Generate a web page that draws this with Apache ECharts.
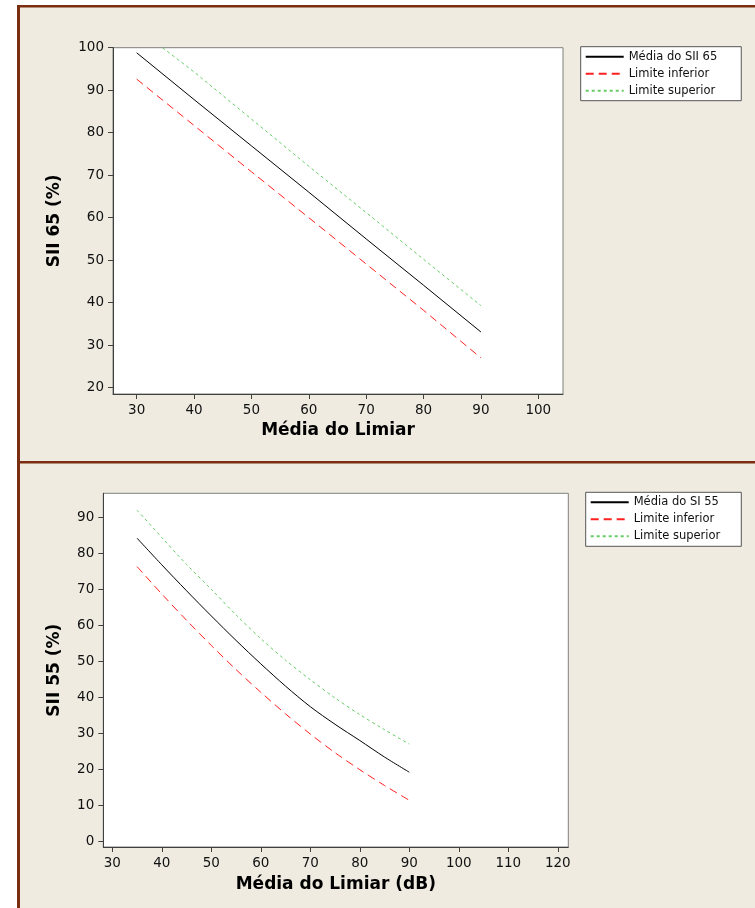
<!DOCTYPE html>
<html>
<head>
<meta charset="utf-8">
<title>SII 65 / SII 55</title>
<script src="https://cdn.jsdelivr.net/npm/echarts@6/dist/echarts.min.js"></script>
<style>
    html, body { margin: 0; padding: 0; background: #fff; }
    #chart { width: 755px; height: 908px; }
</style>
</head>
<body>
<div id="chart"></div>
<script>
// painel de cima: SII 65 (retas)
var topX = [30, 40, 50, 60, 70, 80, 90];
var topMedia = [98.8, 87.8, 76.9, 66.0, 55.0, 44.1, 33.1];
var topInferior = [92.6, 81.7, 70.8, 60.0, 49.1, 38.2, 27.0];
var topSupX = [34.5, 40, 50, 60, 70, 80, 90];
var topSuperior = [100, 94.3, 83.2, 72.1, 61.2, 50.2, 39.3];
var topXTicks = [30, 40, 50, 60, 70, 80, 90, 100];
var topYTicks = [20, 30, 40, 50, 60, 70, 80, 90, 100];

// painel de baixo: SII 55 (curvas)
var botX = [35, 40, 45, 50, 55, 60, 65, 70, 75, 80, 85, 90];
var botMedia = [84.2, 76.8, 69.6, 62.6, 55.8, 49.3, 43.1, 37.4, 32.5, 28.0, 23.4, 19.2];
var botInferior = [76.3, 68.7, 61.4, 54.4, 47.7, 41.4, 35.4, 29.8, 24.6, 19.9, 15.5, 11.4];
var botSuperior = [92.0, 84.4, 76.9, 70.0, 62.9, 56.3, 50.3, 44.9, 39.8, 35.2, 31.0, 27.0];
var botXTicks = [30, 40, 50, 60, 70, 80, 90, 100, 110, 120];
var botYTicks = [0, 10, 20, 30, 40, 50, 60, 70, 80, 90];

function pares(xs, ys) {
    return xs.map(function (x, i) { return [x, ys[i]]; });
}

var fonte = 'DejaVu Sans';
var corBorda = '#7a2d10';

function eixoX(grid, min, max, ticks, nome, gap) {
    return {
        type: 'value',
        gridIndex: grid,
        min: min,
        max: max,
        splitLine: { show: false },
        axisLine: { show: true, onZero: false, lineStyle: { color: '#404040', width: 1 } },
        axisTick: { show: true, customValues: ticks, length: 5, lineStyle: { color: '#404040' } },
        axisLabel: { customValues: ticks, margin: 9, color: '#111', fontFamily: fonte, fontSize: 13.5 },
        name: nome,
        nameLocation: 'middle',
        nameGap: gap,
        nameTextStyle: { color: '#000', fontFamily: fonte, fontWeight: 'bold', fontSize: 17 }
    };
}

function eixoY(grid, min, max, ticks, nome, gap) {
    return {
        type: 'value',
        gridIndex: grid,
        min: min,
        max: max,
        splitLine: { show: false },
        axisLine: { show: true, onZero: false, lineStyle: { color: '#404040', width: 1 } },
        axisTick: { show: true, customValues: ticks, length: 5, lineStyle: { color: '#404040' } },
        axisLabel: { customValues: ticks, margin: 9, color: '#111', fontFamily: fonte, fontSize: 13.5 },
        name: nome,
        nameLocation: 'middle',
        nameGap: gap,
        nameTextStyle: { color: '#000', fontFamily: fonte, fontWeight: 'bold', fontSize: 17 }
    };
}

function serie(nome, idx, dados, cor, tipo, suave) {
    return {
        name: nome,
        type: 'line',
        xAxisIndex: idx,
        yAxisIndex: idx,
        data: dados,
        symbol: 'none',
        smooth: suave,
        silent: true,
        animation: false,
        lineStyle: { color: cor, width: 1, type: tipo },
        itemStyle: { color: cor }
    };
}

function legenda(left, top, nomes, padDir) {
    return {
        left: left,
        top: top,
        orient: 'vertical',
        data: nomes,
        itemWidth: 38,
        itemHeight: 12,
        itemGap: 5,
        padding: [4, padDir, 4, 4],
        backgroundColor: '#fff',
        borderColor: '#555',
        borderWidth: 1,
        borderRadius: 0,
        selectedMode: false,
        // sem o círculo no meio da linha
        itemStyle: { opacity: 0 },
        textStyle: { color: '#111', fontFamily: fonte, fontSize: 11.5 }
    };
}

var chart = echarts.init(document.getElementById('chart'));
var option = {
    backgroundColor: '#efebe1',
    animation: false,
    graphic: [
        { type: 'rect', shape: { x: 0, y: 0, width: 17, height: 908 }, style: { fill: '#fff' }, silent: true },
        { type: 'rect', shape: { x: 0, y: 0, width: 755, height: 5 }, style: { fill: '#fff' }, silent: true },
        { type: 'rect', shape: { x: 17, y: 5, width: 3, height: 903 }, style: { fill: corBorda }, silent: true },
        { type: 'rect', shape: { x: 17, y: 5, width: 738, height: 2.5 }, style: { fill: corBorda }, silent: true },
        { type: 'rect', shape: { x: 17, y: 461, width: 738, height: 2.5 }, style: { fill: corBorda }, silent: true }
    ],
    grid: [
        { left: 113, top: 47.7, width: 450, height: 346.3, show: true, backgroundColor: '#fff', borderColor: '#7f7f7f', borderWidth: 1 },
        { left: 103.3, top: 493.3, width: 465, height: 353.7, show: true, backgroundColor: '#fff', borderColor: '#7f7f7f', borderWidth: 1 }
    ],
    legend: [
        legenda(580.7, 46.7, ['Média do SII 65', 'Limite inferior', 'Limite superior'], 24),
        legenda(585.7, 492.3, ['Média do SI 55', 'Limite inferior', 'Limite superior'], 21)
    ],
    xAxis: [
        eixoX(0, 25.87, 104.31, topXTicks, 'Média do Limiar', 28),
        eixoX(1, 28.18, 122.12, botXTicks, 'Média do Limiar (dB)', 29)
    ],
    yAxis: [
        eixoY(0, 18.5, 100, topYTicks, 'SII 65 (%)', 50),
        eixoY(1, -1.58, 96.67, botYTicks, 'SII 55 (%)', 40)
    ],
    series: [
        serie('Média do SII 65', 0, pares(topX, topMedia), '#000', 'solid', false),
        serie('Limite inferior', 0, pares(topX, topInferior), '#ff2020', [8, 5], false),
        serie('Limite superior', 0, pares(topSupX, topSuperior), '#66cc66', [3, 3], false),
        serie('Média do SI 55', 1, pares(botX, botMedia), '#000', 'solid', 0.3),
        serie('Limite inferior', 1, pares(botX, botInferior), '#ff2020', [8, 5], 0.3),
        serie('Limite superior', 1, pares(botX, botSuperior), '#66cc66', [3, 3], 0.3)
    ]
};
chart.setOption(option);
</script>
</body>
</html>
